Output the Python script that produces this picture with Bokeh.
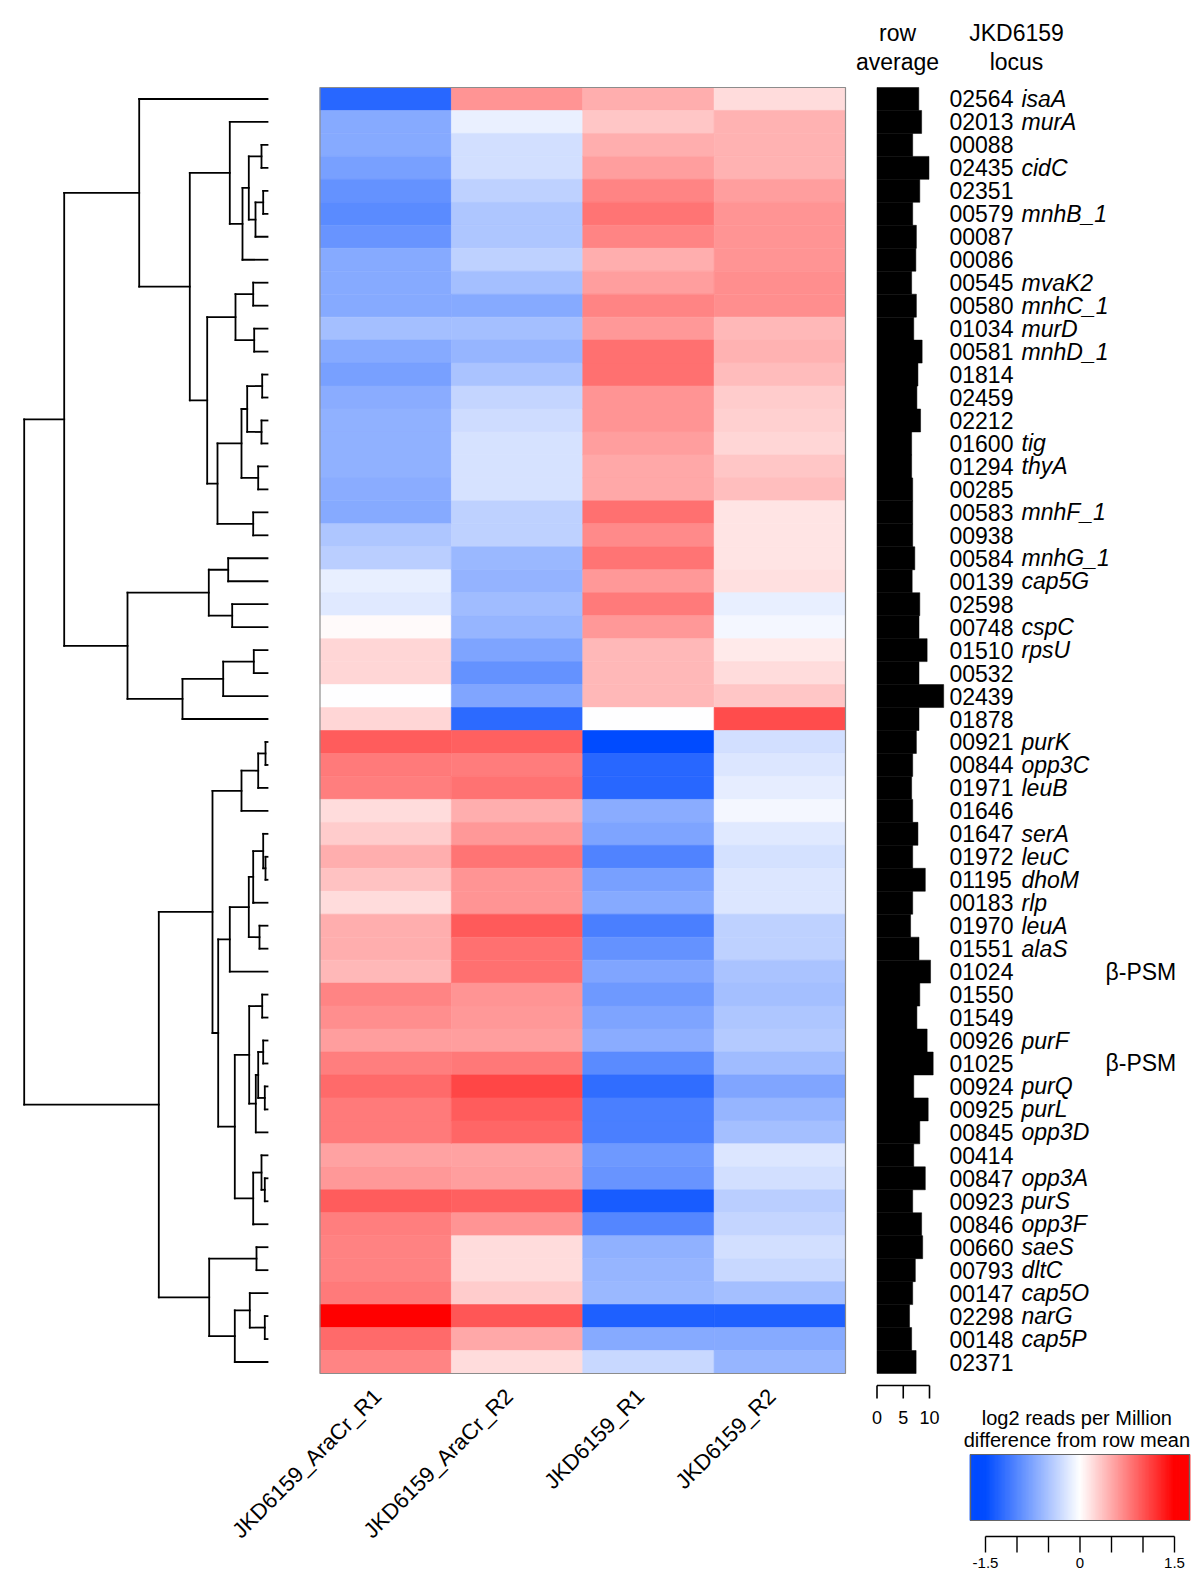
import numpy as np
from math import pi
from bokeh.plotting import figure
from bokeh.models import Range1d, ColumnDataSource, LinearColorMapper
from bokeh.transform import transform
from bokeh.core.properties import value
from bokeh.embed import file_html
from bokeh.resources import INLINE

# ---------------- data ----------------
samples = ["JKD6159_AraCr_R1", "JKD6159_AraCr_R2", "JKD6159_R1", "JKD6159_R2"]

locus = ["02564", "02013", "00088", "02435", "02351", "00579", "00087", "00086",
         "00545", "00580", "01034", "00581", "01814", "02459", "02212", "01600",
         "01294", "00285", "00583", "00938", "00584", "00139", "02598", "00748",
         "01510", "00532", "02439", "01878", "00921", "00844", "01971", "01646",
         "01647", "01972", "01195", "00183", "01970", "01551", "01024", "01550",
         "01549", "00926", "01025", "00924", "00925", "00845", "00414", "00847",
         "00923", "00846", "00660", "00793", "00147", "02298", "00148", "02371"]

gene = ["isaA", "murA", "", "cidC", "", "mnhB_1", "", "",
        "mvaK2", "mnhC_1", "murD", "mnhD_1", "", "", "", "tig",
        "thyA", "", "mnhF_1", "", "mnhG_1", "cap5G", "", "cspC",
        "rpsU", "", "", "", "purK", "opp3C", "leuB", "",
        "serA", "leuC", "dhoM", "rlp", "leuA", "alaS", "", "",
        "", "purF", "", "purQ", "purL", "opp3D", "", "opp3A",
        "purS", "opp3F", "saeS", "dltC", "cap5O", "narG", "cap5P", ""]

psm_loci = ["01024", "01025"]
psm_label = "β-PSM"

# log2 RPM difference from row mean
araR1 = [-1.26, -0.71, -0.71, -0.79, -0.91, -0.97, -0.88, -0.71, -0.71, -0.71, -0.53, -0.71, -0.79, -0.68,
         -0.65, -0.65, -0.65, -0.68, -0.71, -0.47, -0.41, -0.14, -0.18, 0.03, 0.24, 0.24, -0.01, 0.24,
         0.96, 0.78, 0.75, 0.21, 0.30, 0.48, 0.36, 0.21, 0.48, 0.48, 0.42, 0.72, 0.66, 0.57,
         0.75, 0.87, 0.78, 0.78, 0.54, 0.60, 0.96, 0.75, 0.73, 0.73, 0.78, 1.50, 0.87, 0.72]
araR2 = [0.63, -0.12, -0.26, -0.26, -0.38, -0.47, -0.47, -0.38, -0.53, -0.71, -0.53, -0.62, -0.50, -0.35,
         -0.29, -0.24, -0.24, -0.24, -0.38, -0.38, -0.59, -0.63, -0.56, -0.62, -0.76, -0.91, -0.74, -1.24,
         0.93, 0.77, 0.83, 0.48, 0.60, 0.81, 0.63, 0.63, 0.97, 0.84, 0.84, 0.63, 0.60, 0.57,
         0.79, 1.08, 0.96, 0.90, 0.54, 0.57, 0.93, 0.63, 0.21, 0.21, 0.30, 0.99, 0.51, 0.21]
wtR1 = [0.48, 0.33, 0.48, 0.57, 0.72, 0.81, 0.72, 0.48, 0.57, 0.72, 0.60, 0.84, 0.84, 0.63,
        0.63, 0.57, 0.51, 0.51, 0.84, 0.69, 0.81, 0.60, 0.78, 0.60, 0.42, 0.42, 0.42, -0.01,
        -1.50, -1.26, -1.26, -0.68, -0.76, -1.03, -0.79, -0.71, -1.06, -0.91, -0.74, -0.85, -0.76, -0.68,
        -0.97, -1.21, -1.06, -1.06, -0.85, -0.88, -1.35, -1.00, -0.65, -0.62, -0.59, -1.32, -0.71, -0.32]
wtR2 = [0.21, 0.45, 0.45, 0.45, 0.57, 0.63, 0.63, 0.63, 0.66, 0.66, 0.42, 0.45, 0.39, 0.30,
        0.27, 0.24, 0.33, 0.38, 0.16, 0.16, 0.16, 0.18, -0.14, -0.06, 0.12, 0.21, 0.33, 1.05,
        -0.26, -0.21, -0.15, -0.06, -0.18, -0.25, -0.21, -0.21, -0.38, -0.38, -0.50, -0.53, -0.47, -0.44,
        -0.56, -0.74, -0.62, -0.53, -0.21, -0.26, -0.41, -0.35, -0.26, -0.32, -0.53, -1.32, -0.71, -0.62]

# row average (log2 RPM)
row_avg = [7.96, 8.5, 6.8, 9.9, 8.15, 6.8, 7.5, 7.4, 6.6, 7.5, 7.0, 8.6, 7.8, 7.6,
           8.3, 6.6, 6.6, 6.8, 6.8, 6.8, 7.2, 6.7, 8.15, 8.0, 9.55, 8.0, 12.7, 8.0,
           7.5, 6.8, 6.6, 6.8, 7.8, 6.8, 9.2, 6.8, 6.4, 8.0, 10.2, 8.15, 7.6, 9.55,
           10.7, 7.0, 9.75, 8.15, 7.0, 9.2, 6.8, 8.5, 8.7, 7.3, 6.8, 6.2, 6.6, 7.45]

bar_ticks = [0, 5, 10]
cb_ticks = [-1.5, -1.0, -0.5, 0.0, 0.5, 1.0, 1.5]
cb_tick_labels = {-1.5: "-1.5", 0.0: "0", 1.5: "1.5"}

# row dendrogram: (merge height, left, right); leaves are row indices
top_a = (37.7, 1, (25.0, (18.7, (6.0, 2, 3), (12.0, (4.3, 4, 5), 6)), 7))
top_b = (60.3, (32.0, (14.3, 8, 9), (13.3, 10, 11)),
         (50.0, (26.0, (20.3, (5.3, 12, 13), (6.0, 14, 15)), (9.3, 16, 17)), (14.3, 18, 19)))
top_c = (140.0, (58.7, (39.3, 20, 21), (35.3, 22, 23)), (85.0, (44.3, (13.7, 24, 25), 26), 27))
top_cluster = (203.3, (128.3, 0, (77.7, top_a, top_b)), top_c)
bot_a = (26.0, (9.3, (2.0, 28, 29), 30), 31)
bot_b = (37.7, (18.7, (14.3, (4.3, 32, (2.0, 33, 34)), 35), (8.0, 36, 37)), 38)
bot_c = (32.7, (18.3, (5.3, 39, 40), (11.7, (9.3, (4.3, 41, 42), (2.7, 43, 44)), 45)),
         (14.3, (6.0, 46, (2.7, 47, 48)), 49))
bot_d = (58.3, (11.0, 50, 51), (32.7, (17.7, 52, (2.7, 53, 54)), 55))
bottom_cluster = (108.7, (55.0, bot_a, (49.3, bot_b, bot_c)), bot_d)
tree = (243.3, top_cluster, bottom_cluster)

# ---------------- layout ----------------
W, H = 1200, 1581
OX, OY = 0, 0
FONT = value("Liberation Sans")
n_rows = len(locus)
n_cols = len(samples)


def lin_range(v0, p0, v1, p1, lo, hi):
    k = (v1 - v0) / (p1 - p0)
    return Range1d(start=v0 + (lo - p0) * k, end=v0 + (hi - p0) * k)


p = figure(width=W, height=H, x_range=Range1d(OX, OX + W), y_range=Range1d(OY + H, OY),
           x_axis_type=None, y_axis_type=None, toolbar_location=None,
           output_backend="svg", min_border=0, outline_line_color=None)
p.background_fill_color = "white"
p.border_fill_color = "white"

HEAT_L, HEAT_R, HEAT_T, HEAT_B = 319.5, 845.0, 87.0, 1373.0
p.extra_x_ranges = {
    "heat": lin_range(0, HEAT_L, n_cols, HEAT_R, OX, OX + W),
    "dend": lin_range(0, 267.0, 100, 167.0, OX, OX + W),
    "bar": lin_range(0, 876.5, 10, 929.0, OX, OX + W),
    "cb": lin_range(-1.5, 985.0, 1.5, 1174.0, OX, OX + W),
}
p.extra_y_ranges = {"rows": lin_range(0, HEAT_T, n_rows, HEAT_B, OY + H, OY)}

# colour map blue - white - red
def mix(c1, c2, t):
    return tuple(int(round(a + (b - a) * t)) for a, b in zip(c1, c2))

BLUE, WHITE, RED = (0, 75, 255), (255, 255, 255), (255, 0, 0)
palette = []
for i in range(256):
    t = i / 255
    c = mix(BLUE, WHITE, t * 2) if t < 0.5 else mix(WHITE, RED, (t - 0.5) * 2)
    palette.append("#%02x%02x%02x" % c)
mapper = LinearColorMapper(palette=palette, low=-1.5, high=1.5)

# ---------------- heatmap ----------------
cols = [araR1, araR2, wtR1, wtR2]
hx, hy, hv = [], [], []
for c, colvals in enumerate(cols):
    for r, v in enumerate(colvals):
        hx.append(c)
        hy.append(r)
        hv.append(v)
hsrc = ColumnDataSource(dict(l=hx, r=[x + 1 for x in hx], t=hy, b=[y + 1 for y in hy], v=hv))
p.quad(left="l", right="r", top="t", bottom="b", source=hsrc,
       fill_color=transform("v", mapper), line_color=transform("v", mapper), line_width=0.6,
       x_range_name="heat", y_range_name="rows")
p.quad(left=[0], right=[n_cols], top=[0], bottom=[n_rows], fill_color=None,
       line_color="#8c8c8c", line_width=1.2, x_range_name="heat", y_range_name="rows")

# column labels
p.text(x=[c + 0.5 for c in range(n_cols)], y=[1392] * n_cols, text=samples, angle=pi / 4,
       x_offset=-8, text_align="right", text_baseline="middle", text_font=FONT,
       text_font_size="22px", text_color="black", x_range_name="heat")

# ---------------- dendrogram ----------------
seg = dict(x0=[], y0=[], x1=[], y1=[])


def walk(node):
    if isinstance(node, int):
        return node + 0.5, 0.0
    h, a, b = node
    ya, ha = walk(a)
    yb, hb = walk(b)
    for yy, hh in ((ya, ha), (yb, hb)):
        seg["x0"].append(hh); seg["y0"].append(yy)
        seg["x1"].append(h); seg["y1"].append(yy)
    seg["x0"].append(h); seg["y0"].append(ya)
    seg["x1"].append(h); seg["y1"].append(yb)
    return (ya + yb) / 2, h


walk(tree)
p.segment(x0="x0", y0="y0", x1="x1", y1="y1", source=ColumnDataSource(seg),
          line_color="black", line_width=1.8, line_cap="square",
          x_range_name="dend", y_range_name="rows")

# ---------------- row average bars ----------------
p.hbar(y=[r + 0.5 for r in range(n_rows)], height=1.0, left=0, right=row_avg,
       fill_color="black", line_color="black", line_width=0.5,
       x_range_name="bar", y_range_name="rows")
p.segment(x0=[bar_ticks[0]], y0=[1385], x1=[bar_ticks[-1]], y1=[1385],
          line_color="black", line_width=1.6, x_range_name="bar")
p.segment(x0=bar_ticks, y0=[1385] * 3, x1=bar_ticks, y1=[1398] * 3,
          line_color="black", line_width=1.6, x_range_name="bar")
p.text(x=bar_ticks, y=[1417] * 3, text=[str(t) for t in bar_ticks], text_align="center",
       text_baseline="middle", text_font=FONT, text_font_size="18px", x_range_name="bar")

# ---------------- row labels ----------------
ry = [r + 0.5 for r in range(n_rows)]
p.text(x=[949] * n_rows, y=ry, text=locus, text_align="left", text_baseline="middle",
       text_font=FONT, text_font_size="23px", text_color="black", y_range_name="rows")
p.text(x=[1021] * n_rows, y=ry, text=gene, text_align="left", text_baseline="middle",
       text_font=FONT, text_font_size="23px", text_font_style="italic",
       text_color="black", y_range_name="rows")
psm_y = [locus.index(l) + 0.5 for l in psm_loci]
p.text(x=[1105] * len(psm_y), y=psm_y, text=[psm_label] * len(psm_y), text_align="left",
       text_baseline="middle", text_font=FONT, text_font_size="23px", y_range_name="rows")

# headers
p.text(x=[897, 897, 1016, 1016], y=[32, 61, 32, 61],
       text=["row", "average", "JKD6159", "locus"], text_align="center",
       text_baseline="middle", text_font=FONT, text_font_size="23px")

# ---------------- colour key ----------------
cb_vals = np.linspace(-1.737, 1.737, 240)
step = cb_vals[1] - cb_vals[0]
cb_colors = [palette[int(np.clip((v + 1.5) / 3.0 * 255, 0, 255))] for v in cb_vals]
p.quad(left=cb_vals - step * 0.5, right=cb_vals + step * 0.5, top=[1454] * len(cb_vals),
       bottom=[1520] * len(cb_vals), fill_color=cb_colors, line_color=cb_colors,
       line_width=1.0, x_range_name="cb")
p.quad(left=[cb_vals[0]], right=[cb_vals[-1]], top=[1454], bottom=[1520], fill_color=None,
       line_color="#666666", line_width=1.2, x_range_name="cb")
p.segment(x0=[cb_ticks[0]], y0=[1536], x1=[cb_ticks[-1]], y1=[1536],
          line_color="black", line_width=1.4, x_range_name="cb")
p.segment(x0=cb_ticks, y0=[1536] * len(cb_ticks), x1=cb_ticks, y1=[1552] * len(cb_ticks),
          line_color="black", line_width=1.4, x_range_name="cb")
p.text(x=list(cb_tick_labels.keys()), y=[1562] * 3, text=list(cb_tick_labels.values()),
       text_align="center", text_baseline="middle", text_font=FONT, text_font_size="15px",
       x_range_name="cb")
p.text(x=[-0.05, -0.05], y=[1417, 1439], text=["log2 reads per Million", "difference from row mean"],
       text_align="center", text_baseline="middle", text_font=FONT, text_font_size="20px",
       x_range_name="cb")

open("out.html", "w").write(file_html(p, INLINE))
